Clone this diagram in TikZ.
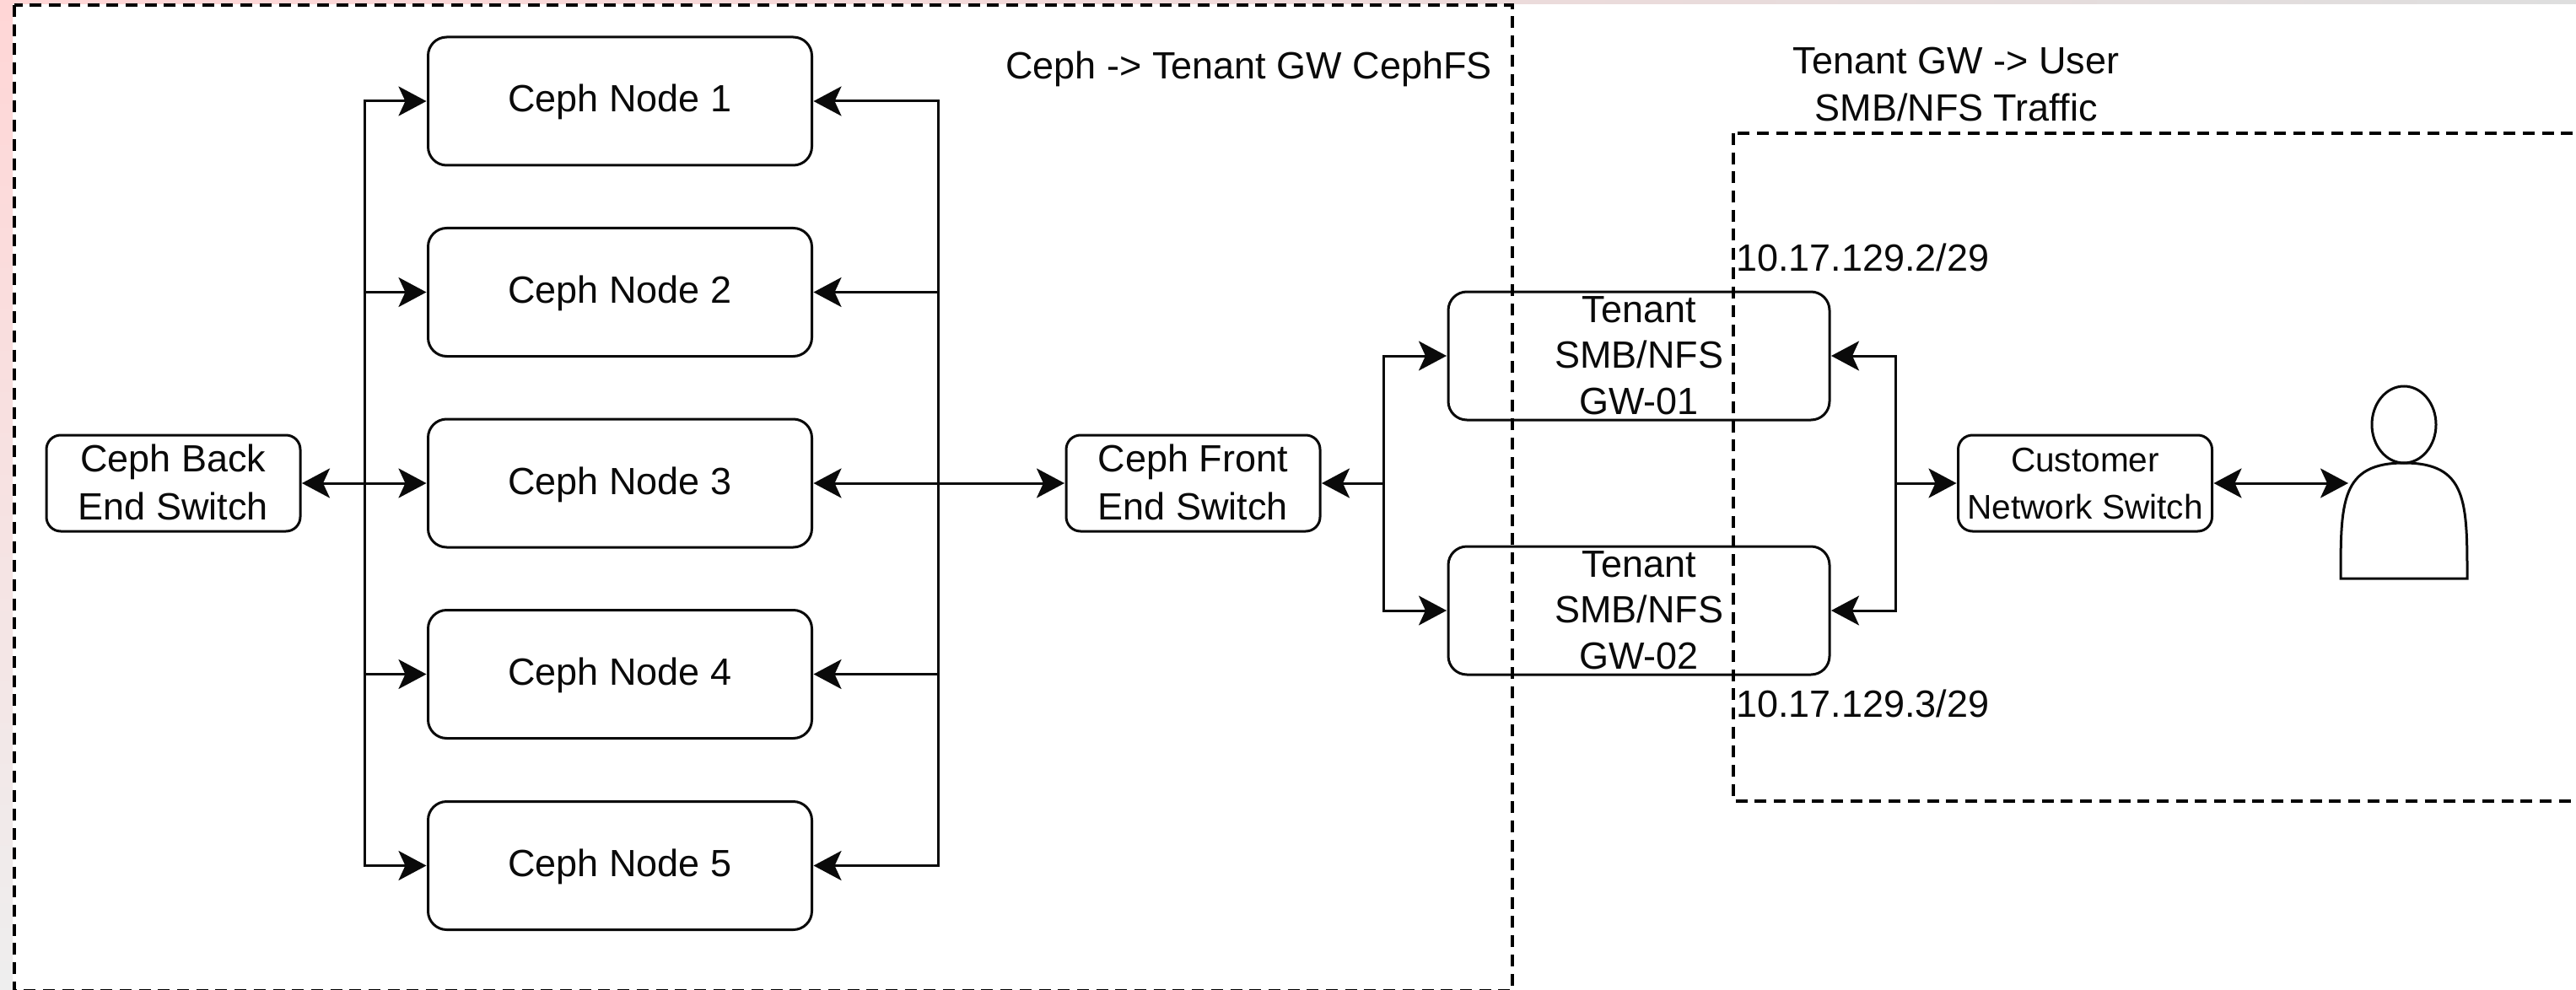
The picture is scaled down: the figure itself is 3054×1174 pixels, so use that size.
\documentclass[tikz,border=0pt]{standalone}
\usepackage{fontspec}
\setmainfont{Liberation Sans}
\usetikzlibrary{arrows.meta}
\newcommand\boxtext[4]{\smash{\raisebox{#3}{\fontsize{#1}{#2}\selectfont\begin{tabular}[t]{@{}c@{}}#4\end{tabular}}}}
\definecolor{ink}{HTML}{0A0A0A}
\tikzset{
  x=1pt,y=-1pt,
  every node/.style={inner sep=0pt,outer sep=0pt,text=ink},
  roundbox/.style={draw=ink,line width=3pt,rounded corners=#1},
  nodebox/.style={roundbox=22pt,minimum width=455pt,minimum height=152pt},
  gwbox/.style={roundbox=22pt,minimum width=452pt,minimum height=152pt},
  switchbox/.style={roundbox=17pt,minimum width=301pt,minimum height=114pt},
  freetext/.style={font=\fontsize{45}{54}\selectfont},
  link/.style={draw=ink,line width=3pt,-{Stealth[length=33pt,width=35pt,inset=8pt]},shorten >=2pt},
  dbllink/.style={draw=ink,line width=3pt,{Stealth[length=33pt,width=35pt,inset=8pt]}-{Stealth[length=33pt,width=35pt,inset=8pt]},shorten >=2pt,shorten <=2pt},
  zone/.style={draw=black,line width=4pt,dash pattern=on 14pt off 8.7pt},
  actor/.style={draw=ink,line width=3pt},
}
\begin{document}
\begin{tikzpicture}
\useasboundingbox (0,0) rectangle (3054,1174);
\clip (0,0) rectangle (3054,1174);
\fill[white] (0,0) rectangle (3054,1174);
% screenshot edges
\shade[top color={rgb,255:red,255;green,214;blue,214},bottom color={rgb,255:red,238;green,238;blue,238}] (0,0) rectangle (15,1174);
\shade[left color={rgb,255:red,255;green,214;blue,214},right color={rgb,255:red,222;green,222;blue,222}] (15,0) rectangle (3054,5);

% nodes
\node[nodebox] (n1) at (735,120) {\boxtext{45}{54}{-13pt}{Ceph Node 1}};
\node[nodebox] (n2) at (735,346.5) {\boxtext{45}{54}{-13pt}{Ceph Node 2}};
\node[nodebox] (n3) at (735,573) {\boxtext{45}{54}{-13pt}{Ceph Node 3}};
\node[nodebox] (n4) at (735,799.5) {\boxtext{45}{54}{-13pt}{Ceph Node 4}};
\node[nodebox] (n5) at (735,1026.5) {\boxtext{45}{54}{-13pt}{Ceph Node 5}};
\node[switchbox] (back) at (205.5,573) {\boxtext{45}{57}{14pt}{Ceph Back\\End Switch}};
\node[switchbox] (front) at (1414.5,573) {\boxtext{45}{57}{14pt}{Ceph Front\\End Switch}};
\node[gwbox] (gw1) at (1943,422) {\boxtext{45}{54.3}{39.5pt}{Tenant\\SMB/NFS\\GW-01}};
\node[gwbox] (gw2) at (1943,724) {\boxtext{45}{54.3}{39.5pt}{Tenant\\SMB/NFS\\GW-02}};
\node[switchbox] (cust) at (2472,573) {\boxtext{40.6}{56}{14pt}{Customer\\Network Switch}};

% free labels
\node[freetext,anchor=base] (t1) at (1480.5,94) {Ceph -> Tenant GW CephFS};
\node (t2) at (2319,88) {\boxtext{45}{56}{0pt}{Tenant GW -> User\\SMB/NFS Traffic}};
\node[freetext,anchor=base west] (ip1) at (2058,321.5) {10.17.129.2/29};
\node[freetext,anchor=base west] (ip2) at (2058,850.5) {10.17.129.3/29};

% user figure
\draw[actor] (2775,686) .. controls (2775,595) and (2775,549) .. (2850,549)
  .. controls (2925,549) and (2925,595) .. (2925,686) -- cycle;
\draw[actor] (2850,503.5) ellipse [x radius=38,y radius=45.5];
\coordinate (user) at (2786,573);

% junctions
\coordinate (busL) at (432.6,573);
\coordinate (busR) at (1112,573);
\coordinate (busF) at (1640,573);
\coordinate (busG) at (2247,573);

% connectors
\draw[dbllink] (back.east) -- (n3.west);
\draw[link] (busL) |- (n1.west);
\draw[link] (busL) |- (n2.west);
\draw[link] (busL) |- (n4.west);
\draw[link] (busL) |- (n5.west);
\draw[dbllink] (n3.east) -- (front.west);
\draw[link] (busR) |- (n1.east);
\draw[link] (busR) |- (n2.east);
\draw[link] (busR) |- (n4.east);
\draw[link] (busR) |- (n5.east);
\draw[link] (busF) -- (front.east);
\draw[link] (busF) |- (gw1.west);
\draw[link] (busF) |- (gw2.west);
\draw[link] (busG) |- (gw1.east);
\draw[link] (busG) |- (gw2.east);
\draw[link] (busG) -- (cust.west);
\draw[dbllink] (cust.east) -- (user);

% dashed zones
\draw[zone] (17,6) rectangle (1792.5,1175);
\draw[zone] (2055,158) rectangle (3100,950);
\end{tikzpicture}
\end{document}
